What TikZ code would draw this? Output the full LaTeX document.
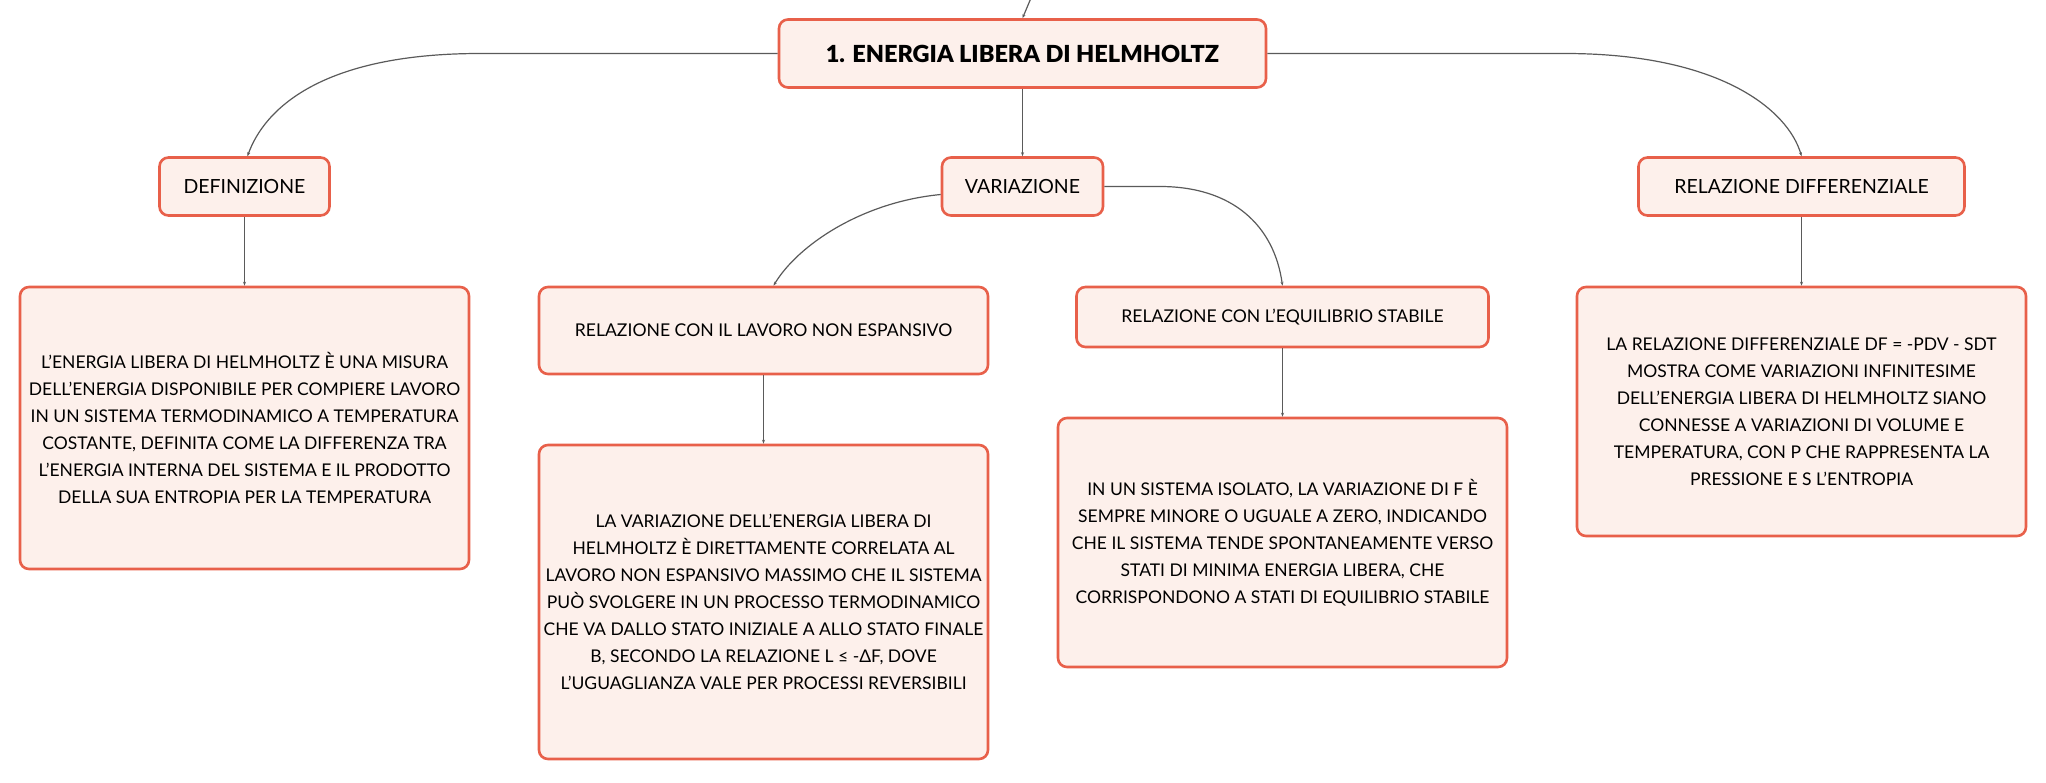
\documentclass[tikz,border=0pt]{standalone}
\usepackage{fontspec}
\setmainfont{Lato}[BoldFont={Lato Black}]
\usetikzlibrary{arrows.meta}
\definecolor{bordo}{HTML}{E8604A}
\definecolor{sfondo}{HTML}{FDF0EB}
\definecolor{linea}{HTML}{5A5A5A}
\begin{document}
\begin{tikzpicture}[x=1pt, y=-1pt,
    box/.style={draw=bordo, fill=sfondo, line width=2.6pt, rounded corners=9pt, align=center, inner sep=0pt},
    titolo/.style={box, font=\fontsize{23.5}{26}\selectfont\bfseries},
    voce/.style={box, font=\fontsize{19.5}{24}\selectfont},
    sottovoce/.style={box, font=\fontsize{17.6}{24}\selectfont},
    testo/.style={box, font=\fontsize{17.5}{27}\selectfont},
    ramo/.style={draw=linea, line width=1.2pt, -{Stealth[length=4pt,width=3pt]}}]

    \useasboundingbox (0,0) rectangle (2046,782);

    % Nodo centrale
    \node[titolo, minimum width=487, minimum height=68] (root) at (1022.5,53.5) {1. ENERGIA LIBERA DI HELMHOLTZ};
    \coordinate (sopra) at (1031,-2);

    % Rami principali
    \node[voce, minimum width=170, minimum height=58] (def) at (244.5,186.5) {DEFINIZIONE};
    \node[voce, minimum width=161, minimum height=58] (var) at (1022.5,186.5) {VARIAZIONE};
    \node[voce, minimum width=326, minimum height=58] (diff) at (1801.5,186.5) {RELAZIONE DIFFERENZIALE};

    % Sotto-rami di variazione
    \node[sottovoce, minimum width=449, minimum height=87] (lav) at (763.5,330.5) {RELAZIONE CON IL LAVORO NON ESPANSIVO};
    \node[sottovoce, minimum width=412, minimum height=60] (equil) at (1282.5,317) {RELAZIONE CON L’EQUILIBRIO STABILE};

    % Testi
    \node[testo, minimum width=449, minimum height=282] (defbody) at (244.5,428) {%
        L’ENERGIA LIBERA DI HELMHOLTZ È UNA MISURA\\
        DELL’ENERGIA DISPONIBILE PER COMPIERE LAVORO\\
        IN UN SISTEMA TERMODINAMICO A TEMPERATURA\\
        COSTANTE, DEFINITA COME LA DIFFERENZA TRA\\
        L’ENERGIA INTERNA DEL SISTEMA E IL PRODOTTO\\
        DELLA SUA ENTROPIA PER LA TEMPERATURA};
    \node[testo, minimum width=449, minimum height=314] (lavbody) at (763.5,602) {%
        LA VARIAZIONE DELL’ENERGIA LIBERA DI\\
        HELMHOLTZ È DIRETTAMENTE CORRELATA AL\\
        LAVORO NON ESPANSIVO MASSIMO CHE IL SISTEMA\\
        PUÒ SVOLGERE IN UN PROCESSO TERMODINAMICO\\
        CHE VA DALLO STATO INIZIALE A ALLO STATO FINALE\\
        B, SECONDO LA RELAZIONE L ≤ -ΔF, DOVE\\
        L’UGUAGLIANZA VALE PER PROCESSI REVERSIBILI};
    \node[testo, minimum width=449, minimum height=249] (eqbody) at (1282.5,542.5) {%
        IN UN SISTEMA ISOLATO, LA VARIAZIONE DI F È\\
        SEMPRE MINORE O UGUALE A ZERO, INDICANDO\\
        CHE IL SISTEMA TENDE SPONTANEAMENTE VERSO\\
        STATI DI MINIMA ENERGIA LIBERA, CHE\\
        CORRISPONDONO A STATI DI EQUILIBRIO STABILE};
    \node[testo, minimum width=449, minimum height=249] (diffbody) at (1801.5,411.5) {%
        LA RELAZIONE DIFFERENZIALE DF = -PDV - SDT\\
        MOSTRA COME VARIAZIONI INFINITESIME\\
        DELL’ENERGIA LIBERA DI HELMHOLTZ SIANO\\
        CONNESSE A VARIAZIONI DI VOLUME E\\
        TEMPERATURA, CON P CHE RAPPRESENTA LA\\
        PRESSIONE E S L’ENTROPIA};

    % Collegamenti
    \draw[ramo] (sopra) -- (root.north);
    \draw[ramo] (root.west) -- (480,53.5) .. controls (320,53.5) and (264,110) .. ([xshift=3pt]def.north);
    \draw[ramo] (root.south) -- (var.north);
    \draw[ramo] (root.east) -- (1565,53.5) .. controls (1720,53.5) and (1788,110) .. (diff.north);
    \draw[ramo] ([yshift=-8pt]var.west) .. controls (862,202) and (798,245) .. ([xshift=10pt]lav.north);
    \draw[ramo] (var.east) -- (1160,186.5) .. controls (1232,186.5) and (1274,225) .. (equil.north);
    \draw[ramo] (def.south) -- (defbody.north);
    \draw[ramo] (lav.south) -- (lavbody.north);
    \draw[ramo] (equil.south) -- (eqbody.north);
    \draw[ramo] (diff.south) -- (diffbody.north);
\end{tikzpicture}
\end{document}
